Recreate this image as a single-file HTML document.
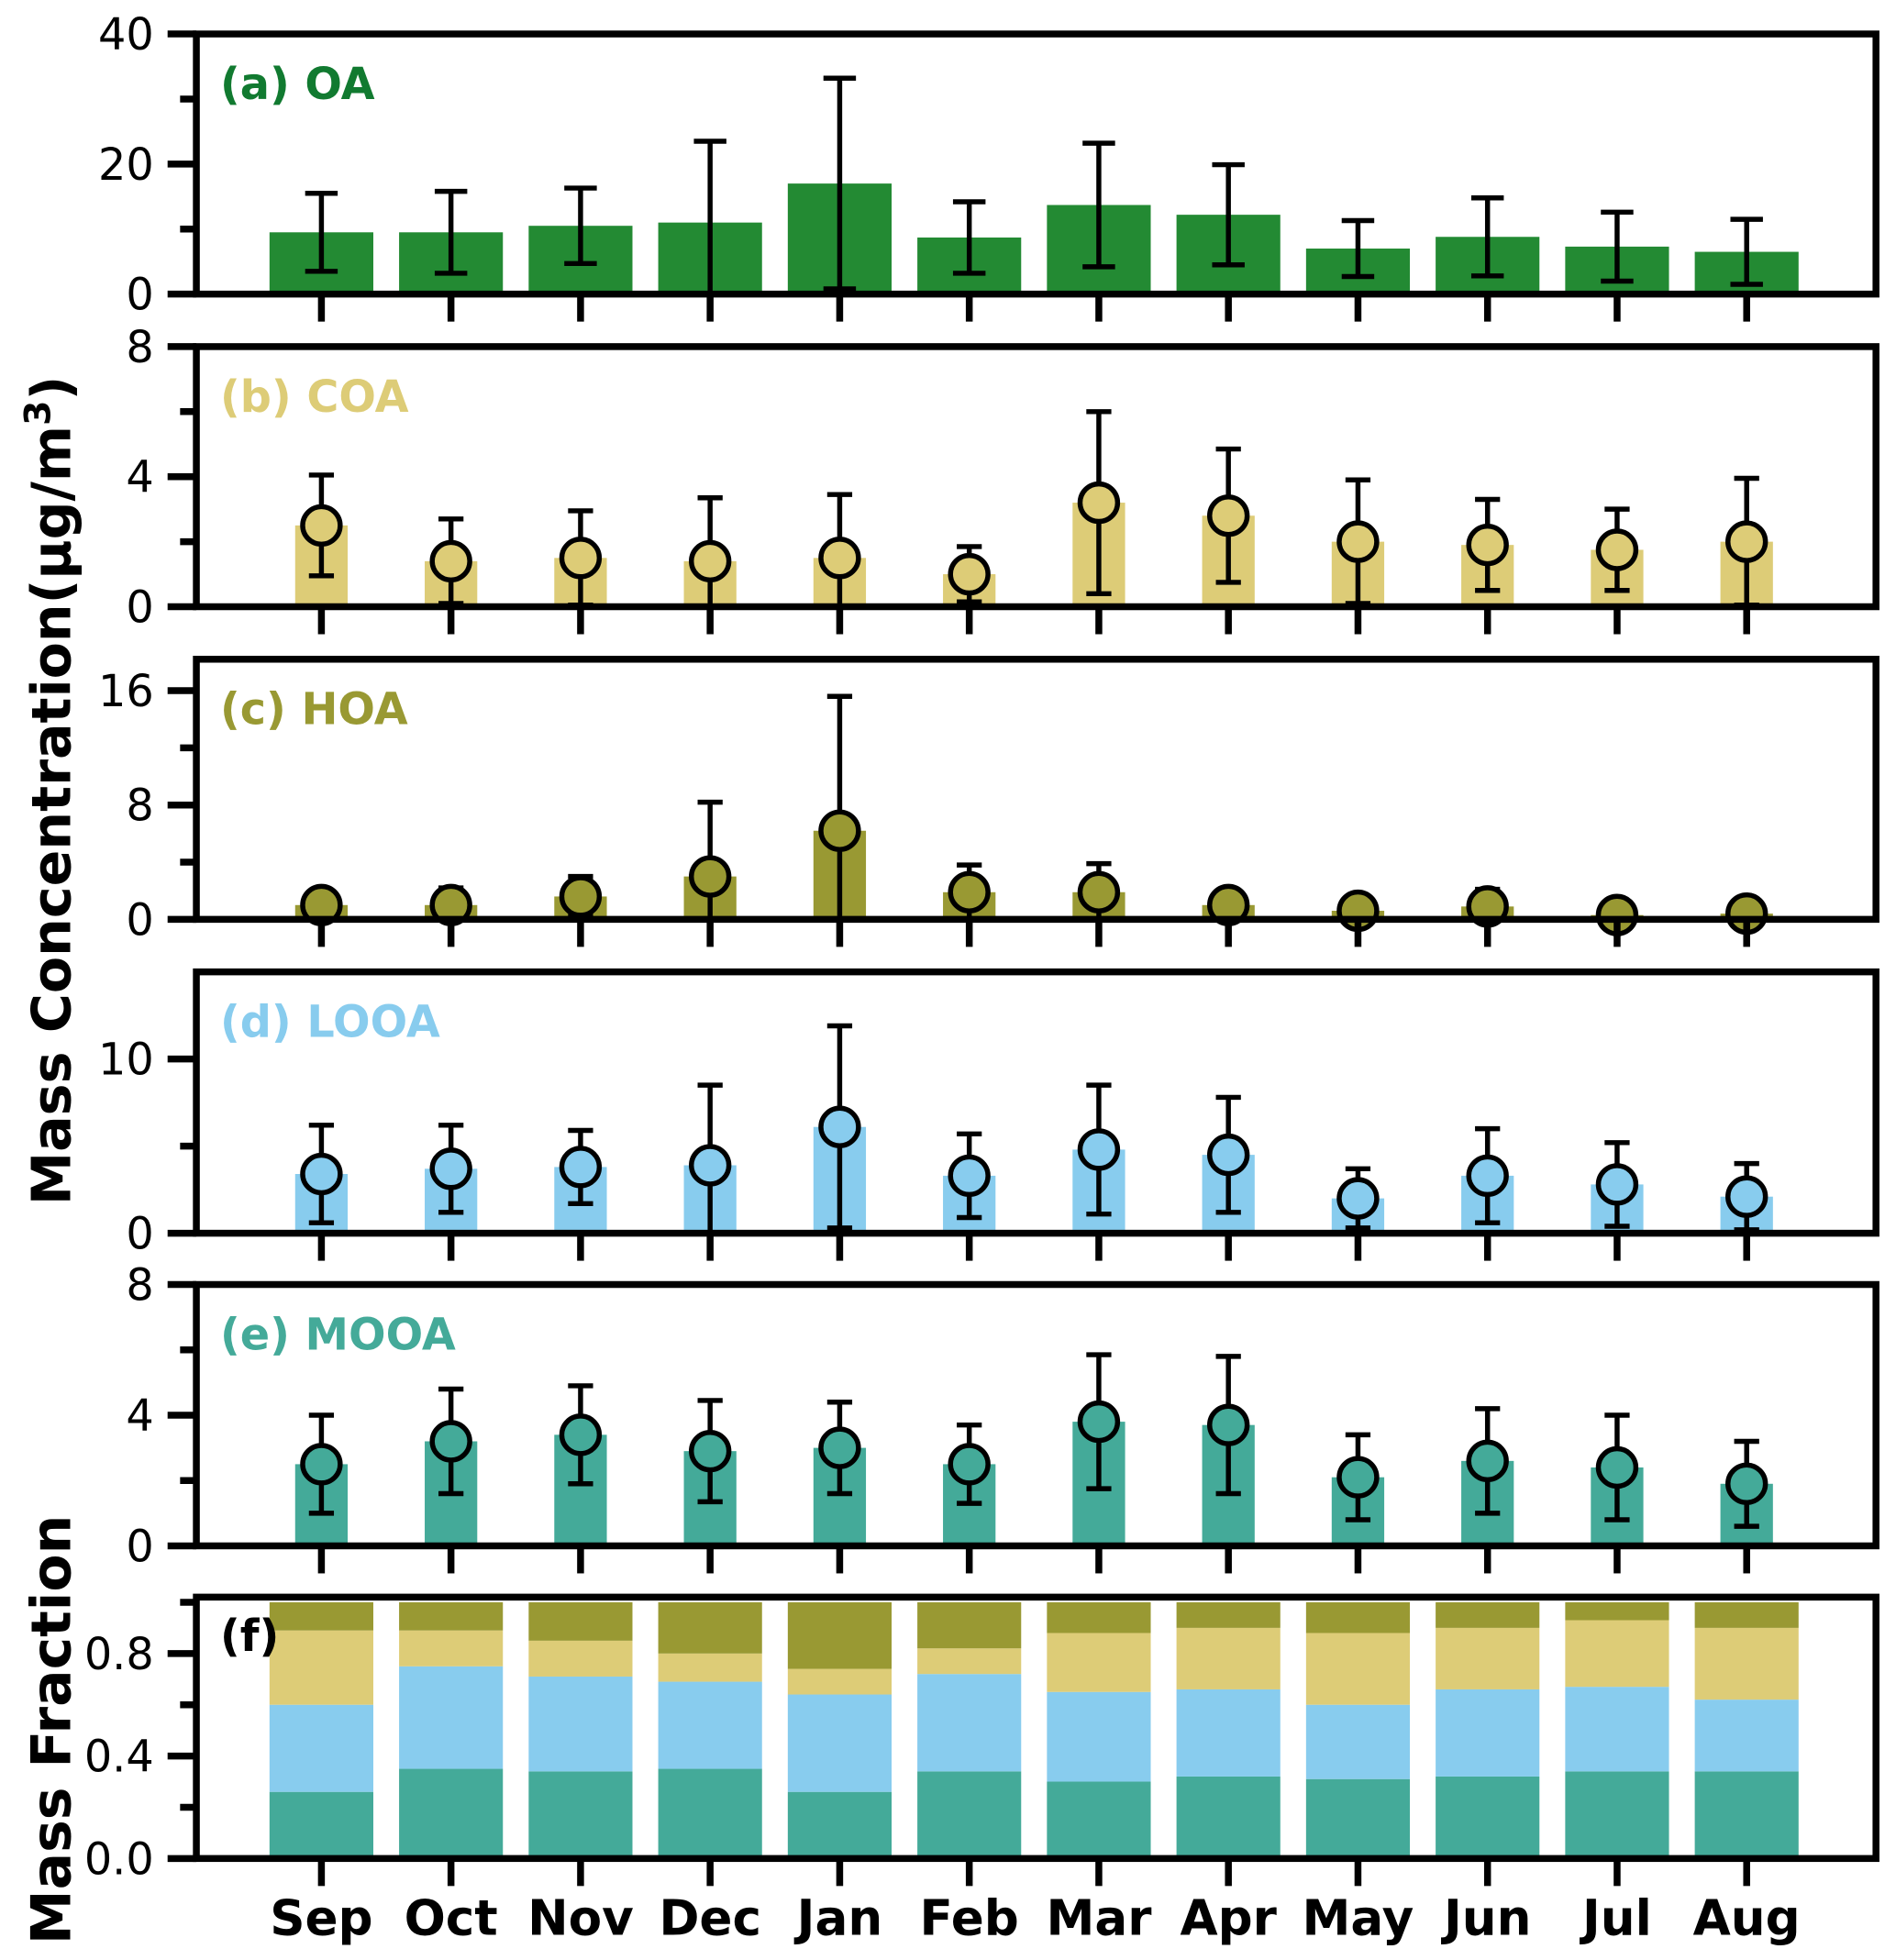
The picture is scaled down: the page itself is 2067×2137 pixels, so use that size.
<!DOCTYPE html>
<html><head><meta charset="utf-8"><style>
html,body{margin:0;padding:0;background:#fff}
svg{display:block}
text{font-family:"DejaVu Sans","Liberation Sans",sans-serif}
</style></head><body>
<svg id="chart" width="2067" height="2137" viewBox="0 0 1516 1567" xmlns="http://www.w3.org/2000/svg"></svg>
<script>
const months = ["Sep","Oct","Nov","Dec","Jan","Feb","Mar","Apr","May","Jun","Jul","Aug"];
const oaValues = [9.5,9.5,10.5,11,17,8.7,13.7,12.2,7,8.8,7.3,6.5];
const oaErr = [6,6.3,5.8,12.5,16.2,5.5,9.5,7.7,4.3,6,5.3,5];
const coaValues = [2.5,1.4,1.5,1.4,1.5,1.0,3.2,2.8,2.0,1.9,1.75,2.0];
const coaErr = [1.55,1.3,1.45,1.95,1.95,0.85,2.8,2.05,1.9,1.4,1.25,1.95];
const hoaValues = [1.0,1.0,1.6,3.0,6.2,1.9,1.9,1.0,0.6,0.9,0.3,0.4];
const hoaErr = [0.5,1.2,1.4,5.2,9.4,1.9,2.0,0.4,0.3,1.2,0.2,0.2];
const looaValues = [3.4,3.7,3.8,3.9,6.1,3.3,4.8,4.5,2.0,3.3,2.8,2.1];
const looaErr = [2.8,2.5,2.1,4.6,5.8,2.4,3.7,3.3,1.7,2.7,2.4,1.9];
const mooaValues = [2.5,3.2,3.4,2.9,3.0,2.5,3.8,3.7,2.1,2.6,2.4,1.9];
const mooaErr = [1.5,1.6,1.5,1.55,1.4,1.2,2.05,2.1,1.3,1.6,1.6,1.3];
const fracMOOA = [0.26,0.35,0.34,0.35,0.26,0.34,0.30,0.32,0.31,0.32,0.34,0.34];
const fracLOOA = [0.34,0.40,0.37,0.34,0.38,0.38,0.35,0.34,0.29,0.34,0.33,0.28];
const fracCOA = [0.29,0.14,0.14,0.11,0.10,0.10,0.23,0.24,0.28,0.24,0.26,0.28];
const fracHOA = [0.11,0.11,0.15,0.20,0.26,0.18,0.12,0.10,0.12,0.10,0.07,0.10];
const fTicks = ["0.0","0.4","0.8"];

const NS="http://www.w3.org/2000/svg";
const svg=document.getElementById('chart');
function mk(tag,attrs,parent){const e=document.createElementNS(NS,tag);for(const k in attrs)e.setAttribute(k,attrs[k]);(parent||svg).appendChild(e);return e;}
const X0=157,X1=1500;
const TF=35, LW=5.5;
function xPos(i){return 257+i*103.6;}

const panels=[
 {key:"oa",label:"(a) OA",lc:"#117a30",top:27,bot:235,max:40,major:[0,20,40],minor:[10,30],vals:oaValues,err:oaErr,color:"#238a33",bw:83,circ:false},
 {key:"coa",label:"(b) COA",lc:"#ddcc77",top:277,bot:485,max:8,major:[0,4,8],minor:[2,6],vals:coaValues,err:coaErr,color:"#ddcc77",bw:42,circ:true},
 {key:"hoa",label:"(c) HOA",lc:"#999933",top:527,bot:735,max:18.2,major:[0,8,16],minor:[4,12],vals:hoaValues,err:hoaErr,color:"#999933",bw:42,circ:true},
 {key:"looa",label:"(d) LOOA",lc:"#88ccee",top:777,bot:986,max:15,major:[0,10],minor:[5],vals:looaValues,err:looaErr,color:"#88ccee",bw:42,circ:true},
 {key:"mooa",label:"(e) MOOA",lc:"#44aa99",top:1027,bot:1236,max:8,major:[0,4,8],minor:[2,6],vals:mooaValues,err:mooaErr,color:"#44aa99",bw:42,circ:true}
];

panels.forEach(p=>{
 const g=mk('g',{});
 
 
 const y=v=>p.bot-(v/p.max)*(p.bot-p.top);
 const clipId='clip-'+p.key;
 const cp=mk('clipPath',{id:clipId},g);mk('rect',{x:X0,y:p.top,width:X1-X0,height:p.bot-p.top},cp);
 const dg=mk('g',{'clip-path':'url(#'+clipId+')'},g);
 p.vals.forEach((v,i)=>{
  const cx=xPos(i);
  const r=mk('rect',{x:cx-p.bw/2,y:y(v),width:p.bw,height:p.bot-y(v),fill:p.color},dg);
  
  
  const lo=Math.max(0,v-p.err[i]),hi=v+p.err[i];
  const cw=p.circ?10:13;
  const eb=mk('path',{d:`M${cx},${y(lo)}V${y(hi)}M${cx-cw},${y(hi)}H${cx+cw}M${cx-cw},${y(lo)}H${cx+cw}`,stroke:'#000','stroke-width':4,fill:'none'},dg);
  
  
  if(p.circ){
   const c=mk('circle',{cx:cx,cy:y(v),r:15,fill:p.color,stroke:'#000','stroke-width':4},g);
   
   
  }
 });
 p.major.forEach(t=>{
  mk('line',{x1:134,x2:X0,y1:y(t),y2:y(t),stroke:'#000','stroke-width':LW},g);
  const tx=mk('text',{x:123,y:y(t)+12.5,'text-anchor':'end','font-size':TF,fill:'#000'},g);tx.textContent=t;
  
  
 });
 p.minor.forEach(t=>mk('line',{x1:144,x2:X0,y1:y(t),y2:y(t),stroke:'#000','stroke-width':LW},g));
 months.forEach((m,i)=>mk('line',{x1:xPos(i),x2:xPos(i),y1:p.bot,y2:p.bot+22,stroke:'#000','stroke-width':LW},g));
 const fr=mk('rect',{x:X0,y:p.top,width:X1-X0,height:p.bot-p.top,fill:'none',stroke:'#000','stroke-width':LW},g);
 
 
 const lb=mk('text',{x:176,y:p.top+52,'font-size':35,'font-weight':'bold',fill:p.lc},g);lb.textContent=p.label;
 
 
});

// panel f
(function(){
 const top=1277,bot=1486,max=1.02;
 const g=mk('g',{});
 
 
 const y=v=>bot-(v/max)*(bot-top);
 const layers=[[fracMOOA,'#44aa99','mooa'],[fracLOOA,'#88ccee','looa'],[fracCOA,'#ddcc77','coa'],[fracHOA,'#999933','hoa']];
 months.forEach((m,i)=>{
  let base=0;
  layers.forEach(([arr,col,k])=>{
   const v=arr[i];
   const r=mk('rect',{x:xPos(i)-41.5,y:y(base+v),width:83,height:y(base)-y(base+v),fill:col},g);
   
   
   base+=v;
  });
  mk('line',{x1:xPos(i),x2:xPos(i),y1:bot,y2:bot+22,stroke:'#000','stroke-width':LW},g);
  const t=mk('text',{x:xPos(i),y:1547,'text-anchor':'middle','font-size':39,'font-weight':'bold',fill:'#000'},g);t.textContent=m;
  
  
 });
 fTicks.forEach(s=>{
  const v=parseFloat(s);
  mk('line',{x1:134,x2:X0,y1:y(v),y2:y(v),stroke:'#000','stroke-width':LW},g);
  const tx=mk('text',{x:123,y:y(v)+12.5,'text-anchor':'end','font-size':TF,fill:'#000'},g);tx.textContent=s;
  
  
 });
 [0.2,0.6,1.0].forEach(v=>mk('line',{x1:144,x2:X0,y1:y(v),y2:y(v),stroke:'#000','stroke-width':LW},g));
 mk('rect',{x:X0,y:top,width:X1-X0,height:bot-top,fill:'none',stroke:'#000','stroke-width':LW},g);
 const lb=mk('text',{x:176,y:1320,'font-size':35,'font-weight':'bold',fill:'#000'},g);lb.textContent='(f)';
 
 
})();

const yt=mk('text',{x:0,y:0,transform:'translate(56,632) rotate(-90)','text-anchor':'middle','font-size':43,'font-weight':'bold',fill:'#000'});
yt.innerHTML='Mass Concentration(µg/m<tspan dy="-16" font-size="29">3</tspan><tspan dy="16">)</tspan>';


const yf=mk('text',{x:0,y:0,transform:'translate(56,1383) rotate(-90)','text-anchor':'middle','font-size':44,'font-weight':'bold',fill:'#000'});
yf.textContent='Mass Fraction';


</script>
</body></html>
